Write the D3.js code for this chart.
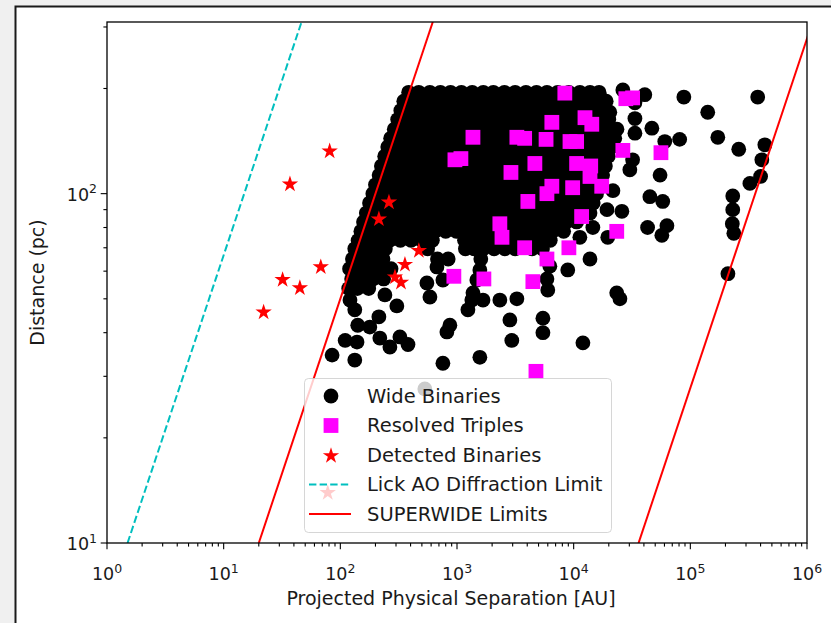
<!DOCTYPE html>
<html><head><meta charset="utf-8">
<script src="https://cdn.jsdelivr.net/npm/d3@7"></script>
<style>
html,body{margin:0;padding:0;background:#f0f0f0;overflow:hidden;}
svg{display:block;}
text{font-family:"DejaVu Sans",sans-serif;fill:#1a1a1a;}
</style></head><body>
<svg id="chart" width="831" height="623"></svg>
<script>
// ---------------- DATA ----------------
const xDomain = [1, 1e6];          // Projected Physical Separation [AU]
const yDomain = [10, 310];         // Distance (pc)
const xTickExponents = ["0","1","2","3","4","5","6"];
const yTickExponents = ["1","2"];
const legendLabels = ["Wide Binaries","Resolved Triples","Detected Binaries","Lick AO Diffraction Limit","SUPERWIDE Limits"];

// Wide binaries, dense part read row by row: distance (pc) and separations (AU)
const wideRowDist = [195,184,173,163,153,144,136,128,120,113,106,100,94,88,83,78,73.5,69.5,65,61,57,53.5];
const wideRowSep = [
  [385,470,585,720,880,1090,1350,1680,2050,2550,3150,3900,4800,5900,7300,9100,11300,13800,16500],
  [350,430,530,650,800,990,1220,1500,1850,2300,2850,3500,4350,5350,6600,8200,10200,12600,15500,19000],
  [330,395,490,600,740,910,1130,1400,1720,2120,2620,3250,4000,4950,6100,7550,9300,11500,14200,17500],
  [310,375,460,565,695,860,1060,1310,1620,2000,2480,3050,3780,4650,5750,7100,8800,10900,13400,16600,20000],
  [290,350,430,530,650,800,990,1220,1510,1860,2300,2850,3500,4350,5350,6600,8200,10100,12500,15400,19000,23500],
  [270,330,405,500,615,760,940,1160,1430,1770,2180,2700,3330,4100,5100,6300,7800,9600,11900,14700,18200,22500],
  [255,310,380,470,580,710,880,1090,1340,1660,2050,2530,3130,3860,4770,5900,7300,9000,11100,13700,17000,21000],
  [240,295,360,445,550,680,840,1030,1280,1580,1950,2400,2970,3670,4530,5600,6900,8500,10500,13000,16000,19800],
  [225,275,340,420,515,640,790,975,1200,1480,1830,2260,2790,3450,4260,5260,6500,8000,9900,12200,15100,18700],
  [215,262,322,397,490,605,745,920,1140,1400,1730,2140,2640,3260,4030,4970,6140,7580,9360,11600,14300,17700],
  [200,245,300,370,460,565,700,860,1060,1310,1620,2000,2470,3050,3770,4650,5750,7100,8770,10800,13400,16500],
  [190,232,286,353,436,538,665,820,1010,1250,1540,1900,2350,2900,3580,4420,5460,6740,8320,10300,12700,15700],
  [178,218,268,330,408,503,621,767,947,1170,1440,1780,2200,2720,3350,4140,5110,6310,7790,9620,11900,14700],
  [167,205,253,312,385,475,587,725,895,1105,1365,1685,2080,2570,3170,3910,4830,5960,7360,9100,11200,13800],
  [158,194,240,296,365,450,556,686,847,1046,1290,1590,1970,2430,3000,3700,4570,5640,6970,8600,10600],
  [150,183,226,279,344,425,525,648,800,988,1220,1506,1860,2300,2840,3500,4320,5340,6590,8200],
  [142,174,215,265,327,404,498,615,1160,1430,1770,2180,2700,3330,4110,5100,6300],
  [133,162,198,243,560,1180,1400,1680,2080,2570,3150,4400,5400],
  [127,155,190,232,680,840,1600],
  [120,147,180,222,272],
  [125,152,190,235],
  [118,140,175]
];
// Wide binaries, scattered part: [separation AU, distance pc]
const wideSparse = [
  [88000,189],[378000,189],[141000,171],[172000,145],[81000,143],[260000,134],[435000,138],
  [410000,125],[400000,112],[324000,107],[231000,98.5],[231000,90],[229000,82],[236000,77],
  [210000,59],[55000,113],[45000,98],[58000,95],[43000,80],[63000,81],[57000,76],[13800,65],
  [23400,52],[24900,50],[40700,192],[33500,164],[46800,154],[60400,141],[33500,149],[32000,125],
  [30300,117],[21700,102],[19300,90],[25900,89],[14600,80],[19600,75],[20400,171],[26400,198],
  [33500,182],[17100,188],[11300,75],[12000,37.4],[5450,44],[5450,40],[6000,53],[5900,57],
  [6250,62],[8900,60.5],[2950,38],[2840,43.5],[2330,49.6],[1670,49.6],[1370,52],[3260,50],
  [1570,34],[757,32.7],[530,27.6],[85,34.5],[110,38],[139,37.6],[133,33.4],[141,42],[179,41.5],
  [218,38.6],[266,36.4],[324,38.9],[380,37],[214,44.4],[121,49.6],[133,46.5],[241,51.3],
  [305,47.7],[586,50.6],[552,55.5],[757,56.6],[673,61.7],[869,42],[819,40.2],[1340,49.6],
  [1240,46.5],[1480,56.6],[1570,60.5]
];
// Resolved triples: [separation AU, distance pc]
const triples = [
  [8400,194],[28000,187],[32000,188],[1370,145],[3260,145],[3800,144],[6500,160],[12500,165],
  [14300,158],[5800,143],[9300,141],[10600,141],[26400,133],[56000,131],[960,125],[1080,126],
  [2900,115],[4650,122],[10600,122],[14000,120],[13800,112],[17400,105],[6500,105],[9800,104],
  [5900,100],[4050,95],[2330,82],[2430,75],[11700,86],[23400,78],[3800,70],[5900,65],[9100,70],
  [1700,57],[4470,56],[940,58],[4750,31]
];
// Detected binaries: [separation AU, distance pc]
const detected = [
  [81,133],[37,107],[261,95],[214,85],[471,69],[358,63],[68,62],[32,57],[45,54],[294,58],
  [331,56],[22,46],[78,14]
];
// Limit lines: separation (AU) per unit distance (pc)
const lickAOFactor = 0.15;
const superwideFactors = [2, 3600];

// ---------------- CHART ----------------
const m = {left:107, right:807, top:22, bottom:543};
const svg = d3.select('#chart');
const x = d3.scaleLog().domain(xDomain).range([m.left, m.right]);
const y = d3.scaleLog().domain(yDomain).range([m.bottom, m.top]);

svg.append('rect').attr('x',15.5).attr('y',6.5).attr('width',830).attr('height',630)
  .attr('fill','#fff').attr('stroke','#1a1a1a').attr('stroke-width',2);

svg.append('defs').append('clipPath').attr('id','clip').append('rect')
  .attr('x',m.left).attr('y',m.top).attr('width',m.right-m.left).attr('height',m.bottom-m.top);

const plot = svg.append('g').attr('clip-path','url(#clip)');

const widePts = [];
wideRowDist.forEach((d,i)=>wideRowSep[i].forEach(s=>widePts.push([s,d])));
wideSparse.forEach(p=>widePts.push(p));

const R = 7.4, SQ = 14.8;
plot.append('g').selectAll('circle').data(widePts).join('circle')
  .attr('cx',d=>x(d[0])).attr('cy',d=>y(d[1])).attr('r',R).attr('fill','#000');

plot.append('g').selectAll('rect').data(triples).join('rect')
  .attr('x',d=>x(d[0])-SQ/2).attr('y',d=>y(d[1])-SQ/2).attr('width',SQ).attr('height',SQ)
  .attr('fill','#ff00ff');

const starSize = 8.6*8.6/0.89081309152928522810;
const starPath = d3.symbol(d3.symbolStar, starSize)();
plot.append('g').selectAll('path').data(detected).join('path')
  .attr('d',starPath).attr('transform',d=>`translate(${x(d[0])},${y(d[1])+0.8})`).attr('fill','#ff0000');

const line = d3.line().x(d=>x(d[0])).y(d=>y(d[1]));
plot.append('path').attr('d',line(yDomain.map(d=>[lickAOFactor*d,d])))
  .attr('fill','none').attr('stroke','#00bfbf').attr('stroke-width',2).attr('stroke-dasharray','7.4,3.2');
superwideFactors.forEach(f=>{
  plot.append('path').attr('d',line(yDomain.map(d=>[f*d,d])))
    .attr('fill','none').attr('stroke','#ff0000').attr('stroke-width',2);
});

// axes
const ax = svg.append('g').attr('stroke','#000').attr('stroke-width',1.1);
const xMajor = xTickExponents.map(e=>Math.pow(10,+e));
const xMinor = [];
for (let e=0;e<6;e++) for (let k=2;k<10;k++) xMinor.push(k*Math.pow(10,e));
const yMajor = yTickExponents.map(e=>Math.pow(10,+e));
const yMinor = [20,30,40,50,60,70,80,90,200,300];
xMajor.forEach(v=>ax.append('line').attr('x1',x(v)).attr('x2',x(v)).attr('y1',m.bottom).attr('y2',m.bottom+6.3));
xMinor.forEach(v=>ax.append('line').attr('x1',x(v)).attr('x2',x(v)).attr('y1',m.bottom).attr('y2',m.bottom+3.6));
yMajor.forEach(v=>ax.append('line').attr('y1',y(v)).attr('y2',y(v)).attr('x1',m.left).attr('x2',m.left-6.3));
yMinor.forEach(v=>ax.append('line').attr('y1',y(v)).attr('y2',y(v)).attr('x1',m.left).attr('x2',m.left-3.6));
svg.append('rect').attr('x',m.left).attr('y',m.top).attr('width',m.right-m.left).attr('height',m.bottom-m.top)
  .attr('fill','none').attr('stroke','#000').attr('stroke-width',1.3);

xMajor.forEach((v,i)=>{
  const t = svg.append('text').attr('x',x(v)).attr('y',580).attr('text-anchor','middle').style('font-size','17.5px');
  t.append('tspan').text('10');
  t.append('tspan').attr('dy',-7.5).style('font-size','12.5px').text(xTickExponents[i]);
});
yMajor.forEach((v,i)=>{
  const t = svg.append('text').attr('x',97).attr('y',y(v)+7).attr('text-anchor','end').style('font-size','17.5px');
  t.append('tspan').text('10');
  t.append('tspan').attr('dy',-7.5).style('font-size','12.5px').text(yTickExponents[i]);
});
svg.append('text').attr('x',(m.left+m.right)/2 - 6).attr('y',605).attr('text-anchor','middle')
  .style('font-size','19px').text('Projected Physical Separation [AU]');
svg.append('text').attr('transform',`translate(44,${(m.top+m.bottom)/2}) rotate(-90)`).attr('text-anchor','middle')
  .style('font-size','19px').text('Distance (pc)');

// legend
const lg = svg.append('g');
lg.append('rect').attr('x',304.5).attr('y',378.5).attr('width',307).attr('height',154).attr('rx',4)
  .attr('fill','#fff').attr('fill-opacity',0.8).attr('stroke','#cccccc').attr('stroke-opacity',0.8);
const ly = [396,425.5,455,484.5,514];
const hx = 331;
lg.append('circle').attr('cx',hx).attr('cy',ly[0]).attr('r',R).attr('fill','#000');
lg.append('rect').attr('x',hx-SQ/2).attr('y',ly[1]-SQ/2).attr('width',SQ).attr('height',SQ).attr('fill','#ff00ff');
lg.append('path').attr('d',starPath).attr('transform',`translate(${hx},${ly[2]+0.8})`).attr('fill','#ff0000');
lg.append('line').attr('x1',309).attr('x2',351).attr('y1',ly[3]).attr('y2',ly[3])
  .attr('stroke','#00bfbf').attr('stroke-width',2).attr('stroke-dasharray','7.4,3.2');
lg.append('line').attr('x1',309).attr('x2',351).attr('y1',ly[4]).attr('y2',ly[4])
  .attr('stroke','#ff0000').attr('stroke-width',2);
legendLabels.forEach((l,i)=>{
  lg.append('text').attr('x',367).attr('y',ly[i]+6.8).style('font-size','19.5px').text(l);
});
</script>
</body></html>
